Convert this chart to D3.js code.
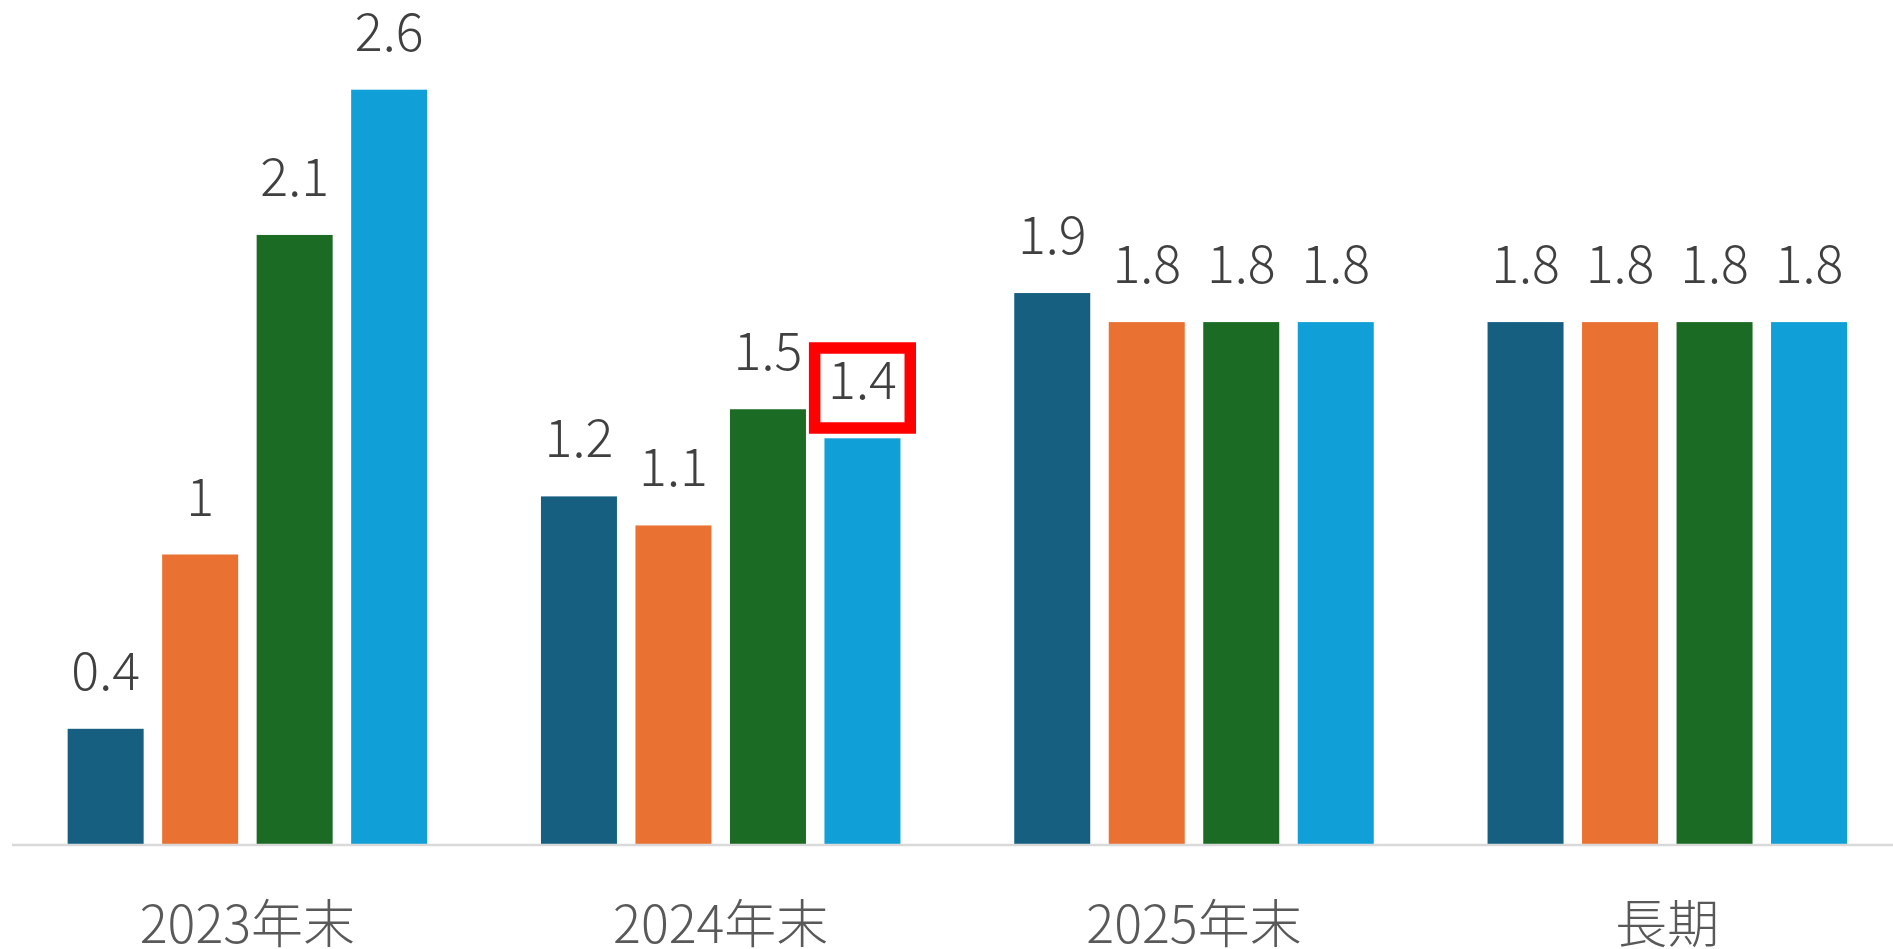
<!DOCTYPE html>
<html>
<head>
<meta charset="utf-8">
<script src="https://cdn.jsdelivr.net/npm/d3@7"></script>
<style>
  html, body { margin: 0; padding: 0; background: #ffffff; }
  svg { display: block; }
  text { font-family: "Noto Sans CJK JP", "Noto Sans", sans-serif; }
</style>
</head>
<body>
<svg id="chart" width="1893" height="949"></svg>
<script>
const categories = ["2023年末", "2024年末", "2025年末", "長期"];
const seriesNames = ["s1", "s2", "s3", "s4"];
const series1 = [0.4, 1.2, 1.9, 1.8];
const series2 = [1, 1.1, 1.8, 1.8];
const series3 = [2.1, 1.5, 1.8, 1.8];
const series4 = [2.6, 1.4, 1.8, 1.8];
const seriesColors = ["#165F81", "#E97132", "#1B6B24", "#109FD7"];
const highlight = { category: "2024年末", series: "s4" };

const allSeries = [series1, series2, series3, series4];
const data = categories.map((c, i) => ({
  category: c,
  values: seriesNames.map((s, j) => ({ category: c, series: s, value: allSeries[j][i], color: seriesColors[j] }))
}));

const svg = d3.select("#chart");
const baseline = 845;

const x0 = d3.scaleBand().domain(categories).range([10.75, 10.75 + 4 * 473.3]).padding(0);
const innerLen = 359.5;
const x1 = d3.scaleBand().domain(seriesNames).range([0, innerLen]).paddingInner(0.1958).paddingOuter(0);
const y = d3.scaleLinear().domain([0, 2.6]).range([baseline, baseline - 2.6 * 290.5]);

const groups = svg.append("g").selectAll("g").data(data).join("g")
  .attr("transform", d => `translate(${x0(d.category) + (x0.bandwidth() - innerLen) / 2},0)`);

groups.selectAll("rect").data(d => d.values).join("rect")
  .attr("x", d => x1(d.series))
  .attr("width", x1.bandwidth())
  .attr("y", d => y(d.value))
  .attr("height", d => y(0) - y(d.value))
  .attr("fill", d => d.color);

groups.selectAll("text.val").data(d => d.values).join("text")
  .attr("class", "val")
  .attr("x", d => x1(d.series) + x1.bandwidth() / 2)
  .attr("y", d => y(d.value) - 39)
  .attr("text-anchor", "middle")
  .attr("font-size", 52)
  .attr("font-weight", 300)
  .attr("fill", "#404040")
  .text(d => d.value);

// highlight box around label
groups.selectAll("rect.hl").data(d => d.values.filter(v => v.category === highlight.category && v.series === highlight.series)).join("rect")
  .attr("class", "hl")
  .attr("x", d => x1(d.series) + x1.bandwidth() / 2 - 47.8)
  .attr("y", d => y(d.value) - 39 - 51.3)
  .attr("width", 95.6)
  .attr("height", 80)
  .attr("fill", "none")
  .attr("stroke", "#FF0000")
  .attr("stroke-width", 11.5);

// axis
const axis = d3.axisBottom(x0).tickSizeInner(0).tickSizeOuter(0).tickPadding(0);
const ax = svg.append("g").attr("transform", `translate(0,${baseline})`).call(axis);
ax.select(".domain").attr("stroke", "#D9D9D9").attr("stroke-width", 2.5)
  .attr("d", `M12,0H1893`);
ax.selectAll(".tick text")
  .attr("dy", null)
  .attr("y", 98)
  .attr("font-size", 52)
  .attr("font-weight", 300)
  .attr("font-family", "'Noto Sans CJK JP', sans-serif")
  .attr("fill", "#595959");
</script>
</body>
</html>
